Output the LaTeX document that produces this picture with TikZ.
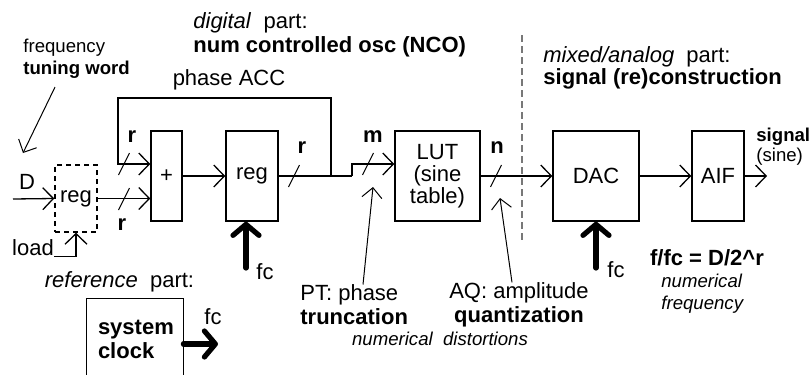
\documentclass[tikz,border=0pt]{standalone}
\usepackage{fontspec}
\setmainfont{Liberation Sans}
\usetikzlibrary{arrows.meta, positioning, calc}
\definecolor{divgray}{RGB}{120,120,120}
\tikzset{
    block/.style={rectangle, draw=black, line width=0.75pt, inner sep=0pt,
        align=center, font=\fontsize{11}{11}\selectfont},
    lbl/.style={inner sep=0pt, align=left, font=\fontsize{11}{12}\selectfont},
    smalllbl/.style={inner sep=0pt, align=left, font=\fontsize{9.3}{11}\selectfont},
    wire/.style={line width=0.65pt},
    arrow/.style={wire, -{Straight Barb[length=5.3pt,width=11pt]}},
    thinarrow/.style={line width=0.5pt, -{Straight Barb[length=5pt,width=10pt]}},
    clkarrow/.style={line width=2.6pt, line cap=round,
        -{Straight Barb[length=5.5pt,width=13pt,round]}},
    slash/.style={line width=0.5pt}
}

\begin{document}
\begin{tikzpicture}[x=0.5pt, y=-0.5pt]
\useasboundingbox (0,0) rectangle (809,375);

% section headers
\node[lbl, anchor=west] (digi) at (193,35) {\textit{digital}\ \ part:\\\textbf{num controlled osc (NCO)}};
\node[lbl, anchor=west, font=\fontsize{11}{10}\selectfont] (mixd) at (543,68) {\textit{mixed/analog}\ \ part:\\\textbf{signal (re)construction}};
\node[lbl] (refp) at (119.5,282) {\textit{reference}\ \ part:};
\node[lbl] (acc) at (229,80) {phase ACC};

% blocks
\node[block, dash pattern=on 2.5pt off 2pt, minimum width=21pt, minimum height=33.5pt] (dreg) at (76,198.5) {reg};
\node[block, minimum width=15.5pt, minimum height=45pt] (add) at (166.5,176) {+};
\node[block, minimum width=26pt, minimum height=45pt] (accreg) at (252,176) {\raisebox{2pt}{reg}};
\node[block, minimum width=42.5pt, minimum height=45pt] (lut) at (437.5,176) {LUT\\(sine\\table)};
\node[block, minimum width=43pt, minimum height=45pt] (dac) at (596,176) {DAC};
\node[block, minimum width=26pt, minimum height=45pt] (aif) at (718,176) {AIF};
\node[lbl, inner xsep=5.5pt, text width=37pt, minimum width=48pt, minimum height=40pt] (clk) at (135,339) {\textbf{system}\\\textbf{clock}};
\draw[line width=0.75pt] (clk.south west) -- (clk.north west) -- (clk.north east) -- (clk.south east);

% inputs and labels
\node[smalllbl, anchor=west] (tw) at (23,59) {frequency\\\textbf{tuning word}};
\node[lbl] (din) at (27,182) {D};
\node[lbl] (ld) at (33,248) {load};
\node[lbl] (r1) at (132,137) {\textbf{r}};
\node[lbl] (r2) at (122,225) {\textbf{r}};
\node[lbl] (r3) at (302,148) {\textbf{r}};
\node[lbl] (mm) at (373,137) {\textbf{m}};
\node[lbl] (nn) at (497,148) {\textbf{n}};
\node[lbl] (fc1) at (265,272) {fc};
\node[lbl] (fc2) at (616,270) {fc};
\node[lbl] (fc3) at (213,317) {fc};
\node[smalllbl, anchor=west] (sig) at (756,147) {\textbf{signal}\\[-1pt](sine)};
\node[lbl, anchor=west] (pt) at (300,305) {PT: phase\\\textbf{truncation}};
\node[lbl, align=center] (aq) at (519,305) {AQ: amplitude\\\textbf{quantization}};
\node[smalllbl, font=\fontsize{9.3}{11}\selectfont\itshape] (dist) at (440,339) {numerical\ \ distortions};
\node[lbl] (ffc) at (707,258) {\textbf{f/fc = D/2\textasciicircum r}};
\node[smalllbl, anchor=west, font=\fontsize{9.3}{11}\selectfont\itshape] (nfreq) at (661,294) {numerical\\frequency};

% free ends
\coordinate (dstart) at (13,199);
\coordinate (dtip) at (23,153);
\coordinate (split) at (331,176);
\coordinate (step) at (352,176);
\coordinate (fbtop) at (118,98);
\coordinate (sout) at (767,176);
\coordinate (pttip) at (373,187);
\coordinate (aqtip) at (500,198);
\coordinate (fcin1) at (246,268);
\coordinate (fcin2) at (596,268);
\coordinate (fcout) at (218,344);
\coordinate (divtop) at (522,35);
\coordinate (divbot) at (522,243);

% connectors
\draw[thinarrow] ([xshift=16pt,yshift=-4pt]tw.south west) -- (dtip);
\draw[arrow] (dstart) -- (dreg.west);
\draw[arrow] (ld.south east) -| (dreg.south);
\draw[arrow] (dreg.east) -- (dreg.east -| add.west);
\draw[arrow] (split) |- (fbtop) |- ([yshift=6pt]add.west);
\draw[arrow] (add.east) -- (accreg.west);
\draw[wire] (accreg.east) -- (step);
\draw[arrow] (step) |- ([yshift=6pt]lut.west);
\draw[arrow] (lut.east) -- (dac.west);
\draw[arrow] (dac.east) -- (aif.west);
\draw[arrow] (aif.east) -- (sout);
\draw[clkarrow] (fcin1) -- (fcin1 |- accreg.south);
\draw[clkarrow] (fcin2) -- (dac.south);
\draw[clkarrow] (clk.east |- fcout) -- (fcout);
\draw[thinarrow] ([xshift=31.5pt]pt.north west) -- (pttip);
\draw[thinarrow] ([xshift=-3.5pt]aq.north) -- (aqtip);
\draw[divgray, line width=0.6pt, dash pattern=on 3.5pt off 2pt] (divtop) -- (divbot);

% bus width marks
\foreach \p in {(124,164),(124,199),(294,176),(368,164),(496,176)}
    \draw[slash] \p ++(-5.5,11) -- ++(11,-22);
\end{tikzpicture}
\end{document}
